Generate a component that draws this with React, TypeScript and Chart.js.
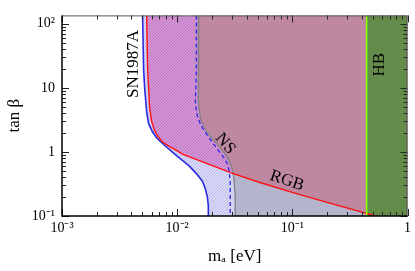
import { useEffect, useRef } from 'react';
import { Chart, registerables } from 'chart.js';

Chart.register(...registerables);

// Axis limits and ticks
const X_MIN = 1e-3;
const X_MAX = 1;
const Y_MIN = 0.1;
const Y_MAX = 135;
const xTickValues = [1e-3, 1e-2, 1e-1, 1];
const xTickLabels = ['10⁻³', '10⁻²', '10⁻¹', '1'];
const yTickValues = [0.1, 1, 10, 100];
const yTickLabels = ['10⁻¹', '1', '10', '10²'];

// SN1987A boundary (blue solid)
const snMass = [0.00501, 0.00511, 0.00522, 0.00543, 0.00565, 0.00612, 0.00662, 0.00776, 0.00948, 0.0111, 0.01276, 0.01468, 0.01655, 0.01756, 0.01828, 0.01865, 0.01865];
const snTan = [135, 19.7, 10, 4.29, 2.76, 2.04, 1.66, 1.27, 0.935, 0.738, 0.601, 0.459, 0.35, 0.267, 0.197, 0.145, 0.1];

// RGB boundary (red)
const rgbMass = [0.00543, 0.00554, 0.00565, 0.00576, 0.006, 0.00637, 0.00689, 0.00746, 0.00858, 0.00986, 0.0111, 0.01276, 0.01559, 0.021, 0.02946, 0.0514, 0.114, 0.2528, 0.528];
const rgbTan = [135, 19.7, 10, 4.99, 3.01, 2.15, 1.69, 1.43, 1.21, 1.06, 0.925, 0.836, 0.73, 0.596, 0.471, 0.336, 0.217, 0.145, 0.1];

// NS boundary (gray solid)
const nsMass = [0.0154, 0.0153, 0.0153, 0.0159, 0.01722, 0.01902, 0.02143, 0.02415, 0.0272, 0.02946, 0.03066, 0.03127, 0.0319, 0.0319];
const nsTan = [135, 19.7, 5.9, 3.33, 2.38, 1.81, 1.43, 1.094, 0.836, 0.617, 0.471, 0.336, 0.203, 0.1];

// NS boundary (blue dashed)
const nsDashMass = [0.01468, 0.01468, 0.01439, 0.01498, 0.01622, 0.01828, 0.0206, 0.02275, 0.02514, 0.0272, 0.0283, 0.02888, 0.02888];
const nsDashTan = [135, 19.7, 5.9, 3.56, 2.54, 1.81, 1.34, 1.06, 0.836, 0.66, 0.504, 0.336, 0.1];

// HB bound
const hbMass = [0.442, 0.442];
const hbTan = [Y_MIN, Y_MAX];

// Region labels
const labelTexts = ['SN1987A', 'HB', 'NS', 'RGB'];
const labelMass = [0.00419, 0.571, 0.0261, 0.0898];
const labelTan = [23.5, 23, 1.34, 0.355];
const labelAngles = [-90, -90, 50, 18.5];

type Pt = { x: number; y: number };
const zip = (xs: number[], ys: number[]): Pt[] => xs.map((x, i) => ({ x, y: ys[i] }));

function crossing(a: Pt[], b: Pt[]) {
  const L = (p: Pt) => [Math.log10(p.x), Math.log10(p.y)];
  for (let i = 0; i < a.length - 1; i++) {
    const [x1, y1] = L(a[i]);
    const [x2, y2] = L(a[i + 1]);
    for (let j = 0; j < b.length - 1; j++) {
      const [x3, y3] = L(b[j]);
      const [x4, y4] = L(b[j + 1]);
      const d = (x2 - x1) * (y4 - y3) - (y2 - y1) * (x4 - x3);
      if (Math.abs(d) < 1e-12) continue;
      const t = ((x3 - x1) * (y4 - y3) - (y3 - y1) * (x4 - x3)) / d;
      const u = ((x3 - x1) * (y2 - y1) - (y3 - y1) * (x2 - x1)) / d;
      if (t >= 0 && t <= 1 && u >= 0 && u <= 1) {
        return { i, j, p: { x: 10 ** (x1 + t * (x2 - x1)), y: 10 ** (y1 + t * (y2 - y1)) } };
      }
    }
  }
  return null;
}

function hatch(bg: string, fg: string, size = 3) {
  const c = document.createElement('canvas');
  c.width = size;
  c.height = size;
  const g = c.getContext('2d')!;
  g.fillStyle = bg;
  g.fillRect(0, 0, size, size);
  g.fillStyle = fg;
  // one-pixel diagonal "/" stripe
  for (let k = 0; k < size; k++) g.fillRect(k, size - 1 - k, 1, 1);
  return g.createPattern(c, 'repeat')!;
}

const SERIF = "'Liberation Serif', 'Times New Roman', serif";

const decorPlugin = {
  id: 'decor',
  afterDatasetsDraw(chart: any) {
    const { ctx, chartArea: a, scales } = chart;
    const xs = scales.x;
    const ys = scales.y;
    const marks = (min: number, max: number) => {
      const out: { v: number; major: boolean }[] = [];
      for (let e = Math.floor(Math.log10(min)); e <= Math.ceil(Math.log10(max)); e++) {
        for (let k = 1; k <= 9; k++) {
          const v = k * 10 ** e;
          if (v >= min * 0.9999 && v <= max * 1.0001) out.push({ v, major: k === 1 });
        }
      }
      return out;
    };
    ctx.save();
    ctx.strokeStyle = '#222';
    ctx.lineWidth = 1;
    ctx.beginPath();
    for (const { v, major } of marks(X_MIN, X_MAX)) {
      const px = Math.round(xs.getPixelForValue(v)) + 0.5;
      const len = major ? 7 : 4;
      ctx.moveTo(px, a.bottom);
      ctx.lineTo(px, a.bottom - len);
      ctx.moveTo(px, a.top);
      ctx.lineTo(px, a.top + len);
    }
    for (const { v, major } of marks(Y_MIN, Y_MAX)) {
      const py = Math.round(ys.getPixelForValue(v)) + 0.5;
      const len = major ? 7 : 4;
      ctx.moveTo(a.left, py);
      ctx.lineTo(a.left + len, py);
      ctx.moveTo(a.right, py);
      ctx.lineTo(a.right - len, py);
    }
    ctx.stroke();
    // frame
    ctx.strokeStyle = '#555';
    ctx.lineWidth = 1;
    ctx.beginPath();
    ctx.moveTo(a.left, a.top + 0.5);
    ctx.lineTo(a.right, a.top + 0.5);
    ctx.moveTo(a.right - 0.5, a.top);
    ctx.lineTo(a.right - 0.5, a.bottom);
    ctx.stroke();
    ctx.strokeStyle = '#000';
    ctx.lineWidth = 1.5;
    ctx.beginPath();
    ctx.moveTo(a.left, a.top);
    ctx.lineTo(a.left, a.bottom);
    ctx.lineTo(a.right, a.bottom);
    ctx.stroke();
    // labels
    ctx.fillStyle = '#000';
    ctx.font = `17px ${SERIF}`;
    ctx.textAlign = 'center';
    ctx.textBaseline = 'middle';
    labelTexts.forEach((t, i) => {
      const px = xs.getPixelForValue(labelMass[i]);
      const py = ys.getPixelForValue(labelTan[i]);
      ctx.save();
      ctx.translate(px, py);
      ctx.rotate((labelAngles[i] * Math.PI) / 180);
      ctx.fillText(t, 0, 0);
      ctx.restore();
    });
    ctx.restore();
  },
};

export default function App() {
  const ref = useRef<HTMLCanvasElement>(null);
  useEffect(() => {
    const canvas = ref.current!;
    const sn = zip(snMass, snTan);
    const rgb = zip(rgbMass, rgbTan);
    const ns = zip(nsMass, nsTan);
    const dash = zip(nsDashMass, nsDashTan);
    const hb = zip(hbMass, hbTan);
    const BR = { x: X_MAX, y: Y_MIN };
    const TR = { x: X_MAX, y: Y_MAX };

    const g = crossing(ns, rgb)!;
    const d = crossing(dash, rgb)!;
    const rgbRev = rgb.slice().reverse();

    const pinkPoly = [...rgb, BR, TR];
    const bluePoly = [...sn, ...rgbRev];
    const stripPoly = [d.p, ...dash.slice(d.i + 1), ...rgb.slice(d.j + 1).reverse()];
    const lavPoly = [g.p, ...ns.slice(g.i + 1), ...rgb.slice(g.j + 1).reverse()];
    const mauvePoly = [...ns.slice(0, g.i + 1), g.p, ...rgb.slice(g.j + 1), BR, TR];
    const hbPoly = [...hb, TR, BR];

    const area = (data: Pt[], bg: any) => ({
      data,
      showLine: true,
      fill: 'shape',
      backgroundColor: bg,
      borderColor: 'rgba(0,0,0,0)',
      borderWidth: 0,
      pointRadius: 0,
    });
    const line = (data: Pt[], color: string, width: number, dashPat: number[] = []) => ({
      data,
      showLine: true,
      fill: false,
      borderColor: color,
      borderWidth: width,
      borderDash: dashPat,
      pointRadius: 0,
    });

    const layers: any[] = [
      area(pinkPoly, hatch('#d596d6', '#bd78c4')),
      area(bluePoly, hatch('#dcdcf8', '#b8b8ec')),
      area(stripPoly, '#d2d2f4'),
      area(lavPoly, '#b4b4cd'),
      area(mauvePoly, '#be89a0'),
      area(hbPoly, '#638c4a'),
      line(ns, '#808080', 1.3),
      line(dash, '#2a2ae0', 1.3, [4, 3]),
      line(sn, '#2a2ae0', 1.6),
      line(rgb, '#ff1010', 1.4),
      line(hb, '#80ff00', 1.6),
    ];
    const n = layers.length;
    const datasets = layers.map((ds, i) => ({ ...ds, order: n - i }));

    const findLabel = (vals: number[], labels: string[], v: number) => {
      const k = vals.findIndex((t) => Math.abs(Math.log10(t) - Math.log10(v)) < 1e-6);
      return k >= 0 ? labels[k] : '';
    };

    const chart = new Chart(canvas, {
      type: 'scatter',
      data: { datasets },
      options: {
        animation: false,
        responsive: false,
        devicePixelRatio: 1,
        layout: { padding: { top: 2, right: 6, left: 0, bottom: 0 } },
        plugins: { legend: { display: false }, tooltip: { enabled: false } },
        elements: { point: { radius: 0 }, line: { tension: 0 } },
        scales: {
          x: {
            type: 'logarithmic',
            min: X_MIN,
            max: X_MAX,
            grid: { display: false, drawTicks: false },
            border: { display: false },
            afterFit: (s: any) => {
              s.height = 55;
            },
            afterBuildTicks: (s: any) => {
              s.ticks = xTickValues.map((v) => ({ value: v }));
            },
            ticks: {
              autoSkip: false,
              maxRotation: 0,
              padding: 4,
              color: '#000',
              font: { family: SERIF, size: 14 },
              callback: (v: any) => findLabel(xTickValues, xTickLabels, Number(v)),
            },
            title: {
              display: true,
              text: 'mₐ [eV]',
              color: '#000',
              font: { family: SERIF, size: 17 },
              padding: { top: 0, bottom: 4 },
            },
          },
          y: {
            type: 'logarithmic',
            min: Y_MIN,
            max: Y_MAX,
            grid: { display: false, drawTicks: false },
            border: { display: false },
            afterFit: (s: any) => {
              s.width = 62;
            },
            afterBuildTicks: (s: any) => {
              s.ticks = yTickValues.map((v) => ({ value: v }));
            },
            ticks: {
              autoSkip: false,
              padding: 7,
              color: '#000',
              font: { family: SERIF, size: 14 },
              callback: (v: any) => findLabel(yTickValues, yTickLabels, Number(v)),
            },
            title: {
              display: true,
              text: 'tan β',
              color: '#000',
              font: { family: SERIF, size: 17 },
              padding: { top: 4, bottom: 0 },
            },
          },
        },
      } as any,
      plugins: [decorPlugin],
    });
    return () => chart.destroy();
  }, []);

  return (
    <div style={{ position: 'absolute', left: 0, top: 0, width: 415, height: 271, background: '#fff' }}>
      <canvas ref={ref} width={415} height={271} style={{ display: 'block' }} />
    </div>
  );
}
